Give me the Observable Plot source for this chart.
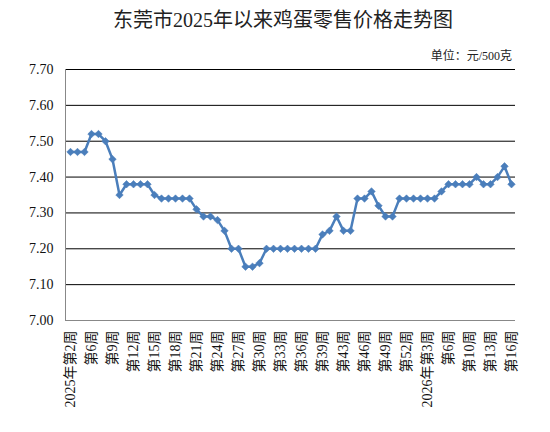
<!DOCTYPE html>
<html><head><meta charset="utf-8">
<script src="https://cdn.jsdelivr.net/npm/d3@7"></script>
<script src="https://cdn.jsdelivr.net/npm/@observablehq/plot@0.6"></script>
<style>
html,body{margin:0;padding:0;background:#fff;}
#wrap{position:relative;width:550px;height:432px;overflow:hidden;}
#title{position:absolute;left:0;top:4px;width:566px;text-align:center;font-family:"Liberation Serif","Noto Sans CJK SC",serif;font-size:20px;color:#222;white-space:nowrap;}
#unit{position:absolute;right:38px;top:46px;font-family:"Liberation Serif","Noto Sans CJK SC",serif;font-size:12px;color:#222;white-space:nowrap;}
#chart{position:absolute;left:0;top:0;}
</style>
</head><body>
<div id="wrap">
<div id="chart"></div>
<div id="title">东莞市2025年以来鸡蛋零售价格走势图</div>
<div id="unit">单位：元/500克</div>
</div>
<script>
const prices = [7.47,7.47,7.47,7.52,7.52,7.50,7.45,7.35,7.38,7.38,
  7.38,7.38,7.35,7.34,7.34,7.34,7.34,7.34,7.31,7.29,
  7.29,7.28,7.25,7.20,7.20,7.15,7.15,7.16,7.20,7.20,
  7.20,7.20,7.20,7.20,7.20,7.20,7.24,7.25,7.29,7.25,
  7.25,7.34,7.34,7.36,7.32,7.29,7.29,7.34,7.34,7.34,
  7.34,7.34,7.34,7.36,7.38,7.38,7.38,7.38,7.40,7.38,
  7.38,7.40,7.43,7.38];
const tickLabels = ["2025年第2周","第6周","第9周","第12周","第15周","第18周","第21周","第24周","第27周","第30周","第33周",
  "第36周","第39周","第43周","第46周","第49周","第52周","2026年第3周","第6周","第10周","第13周","第16周"];
const yTicks = [7.00,7.10,7.20,7.30,7.40,7.50,7.60,7.70];

const data = prices.map((v,i)=>({i, v}));
const idx = d3.range(prices.length);
const tickIdx = tickLabels.map((_,k)=>k*3);
const labelOf = new Map(tickIdx.map((t,k)=>[t, tickLabels[k]]));
const color = "#4A7EBB";

const chart = Plot.plot({
  width: 550, height: 432,
  marginTop: 69, marginLeft: 65, marginRight: 35, marginBottom: 112,
  style: {fontFamily: "'Liberation Serif','Noto Sans CJK SC',serif", fontSize: "14px", color: "#111", background: "transparent"},
  x: {type: "point", domain: idx, padding: 0.5, axis: null},
  y: {domain: [7.0, 7.7], axis: null},
  marks: [
    Plot.ruleY(yTicks.filter(t=>t>7.0), {stroke: "#000", strokeWidth: 1}),
    Plot.ruleY([7.0], {stroke: "#888", strokeWidth: 1}),
    Plot.frame({anchor: "left", stroke: "#888"}),
    Plot.axisY({ticks: yTicks, tickSize: 0, tickPadding: 12, tickFormat: d => d.toFixed(2), fontSize: 14, label: null}),
    Plot.axisX({ticks: tickIdx, tickSize: 0, tickPadding: 10, tickRotate: -90, tickFormat: d => labelOf.get(d), fontSize: 14, label: null}),
    Plot.line(data, {x: "i", y: "v", stroke: color, strokeWidth: 2.5}),
    Plot.dot(data, {x: "i", y: "v", symbol: "square", r: 3, rotate: 45, fill: color, stroke: color, strokeWidth: 0.5})
  ]
});
document.getElementById("chart").appendChild(chart);
</script>
</body></html>
